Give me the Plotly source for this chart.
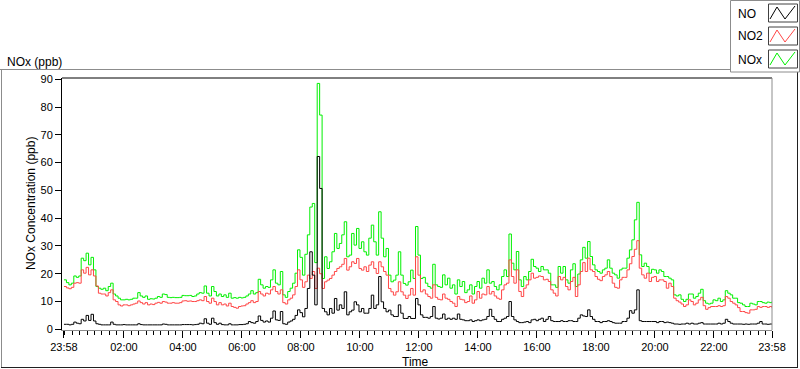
import pandas as pd
import plotly.graph_objects as go

# ---------------- data (5-minute readings, 23:58 -> 23:58) ----------------
start_time = "2024-01-01 23:58"
n_points = 289

no = [
    1.8, 1.8, 1.6, 1.8, 2.6, 2.2, 2.0, 3.6, 3.0, 5.0,
    3.2, 5.4, 3.0, 2.0, 1.8, 1.6, 1.6, 1.6, 1.6, 2.6,
    1.8, 1.6, 1.6, 1.6, 1.7, 1.6, 1.6, 1.6, 1.6, 1.6,
    2.0, 1.7, 1.6, 1.6, 1.6, 1.6, 1.6, 1.6, 1.6, 1.6,
    1.9, 1.8, 1.6, 1.6, 1.6, 1.6, 1.6, 1.6, 1.7, 1.7,
    1.7, 1.7, 1.6, 1.7, 1.8, 2.2, 2.0, 3.8, 2.2, 1.8,
    4.0, 2.4, 1.8, 2.2, 1.7, 1.6, 1.6, 2.0, 1.6, 1.6,
    1.6, 1.7, 1.7, 1.8, 2.0, 2.8, 2.4, 2.2, 2.8, 4.8,
    3.2, 2.6, 3.0, 2.6, 4.0, 6.6, 3.4, 3.2, 6.4, 2.0,
    1.8, 2.6, 3.0, 3.6, 5.0, 7.0, 6.0, 4.5, 7.5, 14.7,
    27.9, 19.5, 8.8, 62.2, 50.7, 7.5, 6.3, 5.2, 7.5, 5.8,
    11.1, 6.9, 8.8, 7.5, 13.5, 5.2, 6.3, 6.9, 9.9, 8.8,
    6.3, 7.5, 5.8, 5.8, 7.5, 12.3, 7.5, 8.8, 19.0, 9.9,
    7.5, 6.3, 6.9, 5.2, 4.6, 4.6, 8.8, 5.8, 3.9, 3.9,
    4.6, 3.9, 3.9, 11.1, 8.8, 5.2, 4.3, 4.3, 4.0, 4.6,
    8.2, 4.0, 3.7, 4.0, 5.5, 3.6, 4.0, 3.6, 4.0, 3.6,
    5.5, 3.6, 3.4, 3.1, 3.1, 3.4, 2.8, 3.1, 3.4, 3.1,
    3.4, 3.6, 4.6, 7.2, 4.6, 3.6, 2.8, 2.8, 3.6, 4.0,
    4.6, 10.0, 4.6, 3.4, 2.8, 2.4, 2.4, 2.6, 2.8, 2.4,
    3.4, 3.6, 3.1, 3.6, 4.0, 2.8, 3.6, 4.6, 3.1, 2.8,
    2.8, 2.8, 3.1, 2.8, 2.8, 3.1, 3.1, 2.8, 2.8, 4.0,
    5.2, 4.8, 4.6, 7.0, 4.6, 3.6, 2.8, 2.8, 2.4, 2.8,
    2.8, 3.1, 2.8, 2.4, 2.2, 2.2, 2.2, 2.8, 2.8, 4.0,
    6.7, 5.8, 7.0, 14.2, 3.1, 2.8, 2.8, 2.8, 2.8, 2.8,
    2.8, 2.4, 2.8, 2.8, 2.4, 2.6, 2.4, 2.2, 1.9, 1.9,
    1.8, 1.9, 1.9, 2.2, 1.9, 2.2, 1.9, 1.9, 2.2, 2.4,
    1.9, 1.9, 1.9, 1.9, 1.9, 1.9, 2.2, 1.9, 2.2, 3.6,
    2.8, 2.2, 1.9, 1.9, 1.9, 1.9, 1.8, 1.9, 1.8, 1.9,
    1.9, 1.9, 2.2, 2.8, 1.9, 1.9, 1.8, 1.9, 1.9,
]

no2 = [
    15.4, 14.9, 14.6, 15.1, 16.6, 16.8, 16.6, 21.4, 20.2, 22.3,
    19.6, 21.4, 19.2, 15.6, 13.0, 12.7, 12.7, 12.0, 13.2, 14.2,
    10.6, 10.0, 8.8, 8.4, 8.8, 8.8, 8.5, 8.8, 9.1, 9.4,
    10.2, 9.6, 9.1, 9.6, 8.8, 9.1, 8.9, 9.4, 9.7, 9.4,
    10.0, 9.8, 9.4, 9.4, 9.6, 9.4, 9.4, 9.6, 10.2, 10.3,
    10.1, 10.2, 10.0, 10.0, 10.3, 10.6, 10.3, 11.8, 10.0, 9.4,
    11.2, 10.0, 8.8, 9.6, 8.8, 9.1, 8.4, 9.4, 8.2, 7.9,
    7.6, 8.2, 8.4, 8.5, 9.1, 9.6, 10.3, 9.6, 10.0, 13.6,
    12.7, 12.0, 13.0, 12.7, 14.2, 15.4, 13.6, 12.7, 14.2, 9.6,
    9.1, 10.6, 11.2, 12.4, 15.4, 21.4, 17.8, 15.1, 17.1, 19.5,
    18.3, 20.8, 14.7, 22.0, 20.0, 14.7, 17.1, 17.7, 18.3, 19.5,
    20.8, 21.9, 22.5, 23.4, 25.5, 21.3, 22.5, 24.3, 23.7, 25.5,
    21.9, 21.3, 22.5, 20.8, 23.1, 24.3, 21.9, 20.1, 24.3, 22.5,
    20.8, 19.5, 14.7, 13.5, 12.3, 13.5, 17.1, 13.5, 12.3, 11.1,
    12.3, 14.7, 12.3, 26.1, 19.5, 13.5, 14.2, 12.7, 11.8, 11.2,
    16.0, 11.5, 10.8, 10.6, 12.7, 11.2, 10.8, 10.0, 9.4, 8.2,
    11.8, 10.8, 10.6, 9.6, 10.0, 12.0, 9.4, 10.6, 13.6, 11.2,
    12.7, 12.4, 15.4, 12.7, 13.6, 12.0, 11.2, 10.8, 14.2, 16.0,
    16.6, 25.0, 19.0, 16.6, 21.4, 13.6, 11.8, 14.8, 16.0, 17.8,
    20.2, 18.4, 18.7, 19.2, 19.0, 17.8, 18.0, 17.2, 14.2, 13.0,
    12.0, 19.0, 17.8, 18.7, 15.4, 14.2, 17.2, 18.7, 11.8, 16.0,
    20.8, 24.0, 20.8, 25.6, 21.4, 20.8, 19.0, 18.0, 17.5, 19.0,
    19.6, 20.8, 19.0, 16.6, 15.1, 14.8, 17.8, 18.7, 18.7, 21.4,
    23.6, 26.2, 28.8, 31.9, 22.0, 19.6, 18.4, 20.2, 17.2, 18.7,
    19.0, 17.2, 17.8, 17.8, 17.2, 14.8, 16.6, 15.4, 11.2, 10.3,
    9.8, 9.1, 8.2, 8.8, 10.6, 10.0, 8.8, 9.4, 10.6, 11.5,
    8.5, 7.2, 7.8, 8.2, 8.2, 8.2, 8.5, 8.2, 8.5, 11.8,
    11.2, 10.0, 9.4, 8.8, 7.8, 6.4, 6.4, 6.0, 5.8, 7.0,
    7.0, 7.2, 8.2, 7.9, 8.2, 8.2, 7.9, 8.2, 7.6,
]

nox = [
    17.8, 16.8, 16.0, 16.6, 19.2, 18.7, 19.2, 25.6, 24.7, 27.4,
    23.2, 25.9, 21.4, 15.4, 14.8, 14.4, 14.8, 13.9, 15.4, 16.6,
    12.7, 12.0, 11.2, 10.6, 10.6, 10.8, 10.6, 10.8, 11.2, 11.2,
    13.2, 12.0, 11.5, 12.0, 10.8, 11.0, 10.9, 11.2, 11.8, 11.5,
    12.7, 12.5, 11.5, 11.4, 11.5, 11.4, 11.4, 11.5, 12.2, 12.1,
    12.1, 12.2, 11.8, 12.0, 12.7, 13.2, 13.0, 15.6, 13.0, 12.0,
    15.4, 13.6, 12.0, 12.7, 11.8, 12.4, 11.5, 13.0, 11.2, 11.4,
    11.2, 11.5, 11.3, 11.5, 12.0, 12.7, 13.9, 12.7, 13.2, 18.0,
    16.0, 14.8, 15.4, 15.1, 17.8, 21.4, 16.6, 16.0, 20.8, 12.4,
    11.5, 13.6, 14.8, 16.6, 20.2, 28.6, 25.9, 19.5, 27.0, 34.0,
    44.0, 45.3, 24.0, 88.5, 77.1, 18.3, 26.1, 21.9, 24.3, 27.9,
    34.5, 29.1, 30.9, 34.0, 38.7, 26.1, 26.7, 34.5, 30.3, 36.3,
    29.1, 31.5, 27.9, 26.7, 32.8, 37.5, 31.5, 26.7, 42.3, 32.8,
    26.1, 29.1, 19.5, 17.1, 17.7, 19.5, 27.9, 19.5, 16.5, 15.9,
    17.1, 21.3, 18.3, 37.0, 26.7, 18.3, 18.7, 16.6, 15.4, 14.8,
    23.4, 16.0, 15.4, 15.1, 19.6, 16.0, 18.4, 14.8, 16.0, 12.7,
    17.8, 15.4, 17.2, 13.2, 14.2, 16.0, 12.7, 15.4, 17.2, 14.8,
    18.4, 16.6, 21.4, 16.6, 17.2, 15.4, 14.2, 16.0, 19.0, 21.4,
    19.0, 34.3, 23.8, 21.4, 28.0, 17.8, 15.4, 19.0, 17.8, 20.8,
    25.2, 22.6, 22.0, 20.8, 22.6, 21.4, 21.4, 20.2, 16.0, 16.0,
    15.1, 22.6, 20.2, 22.6, 17.8, 16.6, 21.4, 23.6, 15.4, 19.9,
    25.0, 29.5, 25.6, 31.6, 26.2, 23.2, 21.4, 20.8, 20.2, 21.4,
    22.0, 25.0, 22.0, 20.2, 19.6, 18.4, 21.4, 22.0, 22.0, 25.6,
    28.6, 32.2, 39.4, 45.7, 26.8, 22.6, 23.8, 22.6, 20.2, 21.6,
    21.4, 20.2, 21.4, 20.8, 19.0, 19.0, 18.4, 17.8, 12.4, 12.0,
    12.4, 10.8, 10.0, 10.8, 12.7, 12.7, 11.2, 11.8, 13.0, 14.4,
    10.3, 9.4, 9.1, 9.4, 10.6, 10.3, 11.2, 10.0, 10.6, 13.9,
    13.0, 12.4, 11.2, 11.2, 9.6, 9.4, 8.8, 8.2, 8.2, 9.4,
    9.1, 8.8, 10.0, 10.0, 9.6, 9.4, 9.8, 9.6, 10.0,
]

tick_times = ["2024-01-01 23:58"] + [f"2024-01-02 {h:02d}:00" for h in range(2, 23, 2)] + ["2024-01-02 23:58"]
tick_labels = ["23:58"] + [f"{h:02d}:00" for h in range(2, 23, 2)] + ["23:58"]
y_ticks = [0, 10, 20, 30, 40, 50, 60, 70, 80, 90]

series_names = ["NO", "NO2", "NOx"]
series_colors = ["#000000", "#FF4646", "#00F000"]

# ---------------- layout helpers (pixel -> paper) ----------------
W, H = 800, 369
PL, PR, PT, PB = 62, 772, 78, 330


def fx(x):
    return (x - PL) / (PR - PL)


def fy(y):
    return (PB - y) / (PB - PT)


times = pd.date_range(start_time, periods=n_points, freq="5min")

fig = go.Figure()
# draw order: NOx, NO2, NO (NO on top)
for vals, name, col in [(nox, "NOx", series_colors[2]), (no2, "NO2", series_colors[1]), (no, "NO", series_colors[0])]:
    fig.add_trace(go.Scatter(x=times, y=vals, mode="lines", name=name,
                             line=dict(color=col, width=1, shape="hv"), hoverinfo="x+y+name"))

x0 = times[0] - pd.Timedelta(minutes=4)
x1 = times[-1]

fig.update_layout(
    width=W, height=H,
    margin=dict(l=PL, r=W - PR, t=PT, b=H - PB),
    plot_bgcolor="white", paper_bgcolor="white",
    showlegend=False,
    font=dict(family="Liberation Sans, Arial, sans-serif", size=11, color="#000000"),
    xaxis=dict(
        type="date", range=[x0, x1],
        tickmode="array", tickvals=tick_times, ticktext=tick_labels,
        ticks="outside", ticklen=7, tickwidth=1, tickcolor="#000000",
        showgrid=False, zeroline=False,
        showline=True, linecolor="#8c8c8c", linewidth=1,
        tickfont=dict(size=11),
        minor=dict(ticks="outside", ticklen=4, tickwidth=1, tickcolor="#000000",
                   tick0="2024-01-02 00:00", dtick=15 * 60 * 1000, showgrid=False),
    ),
    yaxis=dict(
        range=[-0.25, 90.45],
        tickmode="array", tickvals=y_ticks,
        ticks="outside", ticklen=6, tickwidth=1, tickcolor="#000000",
        showgrid=False, zeroline=False,
        showline=True, linecolor="#000000", linewidth=1,
        tickfont=dict(size=11),
    ),
)

shapes = []
# plot frame top (black) and right (gray)
shapes.append(dict(type="line", xref="paper", yref="paper", x0=0, x1=1, y0=1, y1=1,
                   line=dict(color="#000000", width=1)))
shapes.append(dict(type="line", xref="paper", yref="paper", x0=1, x1=1, y0=0, y1=1,
                   line=dict(color="#8c8c8c", width=1)))
# outer panel
shapes.append(dict(type="line", xref="paper", yref="paper", x0=fx(0), x1=fx(730), y0=fy(69.5), y1=fy(69.5),
                   line=dict(color="#8c8c8c", width=1)))
shapes.append(dict(type="line", xref="paper", yref="paper", x0=fx(1.5), x1=fx(1.5), y0=fy(69.5), y1=fy(367.5),
                   line=dict(color="#8c8c8c", width=1)))
shapes.append(dict(type="line", xref="paper", yref="paper", x0=fx(1), x1=fx(798), y0=fy(367.5), y1=fy(367.5),
                   line=dict(color="#202020", width=1)))
shapes.append(dict(type="line", xref="paper", yref="paper", x0=fx(797.5), x1=fx(797.5), y0=fy(72), y1=fy(367.5),
                   line=dict(color="#202020", width=1)))
# legend box
shapes.append(dict(type="rect", xref="paper", yref="paper", x0=fx(730.5), x1=fx(799.5), y0=fy(0.5), y1=fy(72),
                   line=dict(color="#8c8c8c", width=1), fillcolor="white"))
annotations = []
for i, (name, col) in enumerate(zip(series_names, series_colors)):
    top = 4 + 23 * i
    shapes.append(dict(type="rect", xref="paper", yref="paper", x0=fx(768.5), x1=fx(797.5),
                       y0=fy(top), y1=fy(top + 18), line=dict(color="#404040", width=1), fillcolor="white"))
    pts = [(770, top + 15), (777, top + 3), (785, top + 15), (795, top + 2)]
    path = "M " + " L ".join(f"{fx(px)},{fy(py)}" for px, py in pts)
    shapes.append(dict(type="path", xref="paper", yref="paper", path=path, line=dict(color=col, width=1)))
    annotations.append(dict(text=name, xref="paper", yref="paper", x=fx(736), y=fy(top + 9.5),
                            xanchor="left", yanchor="middle", showarrow=False, font=dict(size=12)))

annotations.append(dict(text="NOx (ppb)", xref="paper", yref="paper", x=fx(5), y=fy(62),
                        xanchor="left", yanchor="middle", showarrow=False, font=dict(size=12)))
annotations.append(dict(text="NOx Concentration (ppb)", xref="paper", yref="paper", x=fx(31), y=fy(204),
                        xanchor="center", yanchor="middle", textangle=-90, showarrow=False, font=dict(size=12)))
annotations.append(dict(text="Time", xref="paper", yref="paper", x=fx(415.5), y=fy(361.5),
                        xanchor="center", yanchor="middle", showarrow=False, font=dict(size=12)))

fig.update_layout(shapes=shapes, annotations=annotations)

fig.write_html(
    "out.html",
    config={"displayModeBar": False},
    post_script="document.body.style.margin='0';document.body.style.padding='0';"
                "document.body.style.overflow='hidden';",
)
